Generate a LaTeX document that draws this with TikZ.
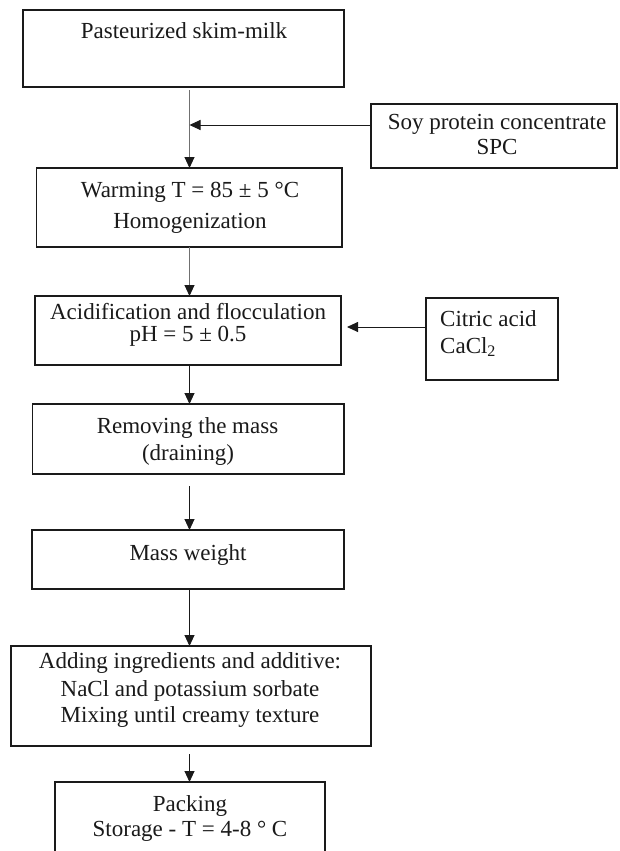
\documentclass[tikz,border=0pt]{standalone}
\usepackage{fontspec}
\setmainfont{Liberation Serif}
\usetikzlibrary{arrows.meta}
\definecolor{ink}{HTML}{1A1A1A}
\definecolor{grayline}{HTML}{707070}
\tikzset{
  box/.style={draw=ink, line width=1.3pt, inner sep=0pt, outer sep=0pt, fill=none},
  txt/.style={anchor=base, inner sep=0pt, text=ink, font=\fontsize{23}{27}\selectfont},
  ltxt/.style={anchor=base west, inner sep=0pt, text=ink, font=\fontsize{23}{27}\selectfont},
  arr/.style={draw=ink, line width=0.9pt, -{Triangle[length=11pt,width=10pt]}},
  garr/.style={draw=grayline, line width=0.9pt, -{Triangle[length=11pt,width=10pt,color=ink,fill=ink]}}
}
\begin{document}
\begin{tikzpicture}[x=1pt,y=-1pt]
\clip (0,0) rectangle (619,851);
\fill[white] (0,0) rectangle (619,851);

% boxes
\node[box, minimum width=321pt, minimum height=77pt] (b1) at (183.5,48.5) {};
\node[box, minimum width=246pt, minimum height=64pt] (spc) at (494,136) {};
\node[box, minimum width=305.5pt, minimum height=79pt] (b2) at (189.25,207.5) {};
\node[box, minimum width=306pt, minimum height=69pt] (b3) at (188,330.5) {};
\node[box, minimum width=132pt, minimum height=82pt] (cit) at (492,339) {};
\node[box, minimum width=311.5pt, minimum height=70pt] (b4) at (188.25,439) {};
\node[box, minimum width=312pt, minimum height=59pt] (b5) at (188,559.5) {};
\node[box, minimum width=360pt, minimum height=100pt] (b6) at (191,696) {};
\node[box, minimum width=270pt, minimum height=98pt] (b7) at (190,831) {};

% texts
\node[txt] (t1) at (184,39) {Pasteurized skim-milk};
\node[txt] (s1) at (497,129) {Soy protein concentrate};
\node[txt] (s2) at (497,154) {SPC};
\node[txt] (w1) at (190,197) {Warming T = 85 ± 5 °C};
\node[txt] (w2) at (190,228) {Homogenization};
\node[txt] (a1) at (188,319) {Acidification and flocculation};
\node[txt] (a2) at (188,341) {pH = 5 ± 0.5};
\node[ltxt] (c1) at (440,326) {Citric acid};
\node[ltxt] (c2) at (440,353) {CaCl\textsubscript{2}};
\node[txt] (r1) at (187.5,433) {Removing the mass};
\node[txt] (r2) at (188,460) {(draining)};
\node[txt] (m1) at (188,560) {Mass weight};
\node[txt] (d1) at (190,668) {Adding ingredients and additive:};
\node[txt] (d2) at (190,696) {NaCl and potassium sorbate};
\node[txt] (d3) at (190,722) {Mixing until creamy texture};
\node[txt] (p1) at (190,811) {Packing};
\node[txt] (p2) at (190,836) {Storage - T = 4-8 ° C};

% connectors
\coordinate (col) at (189.5,0);
\coordinate (j1) at (189.5,125);
\coordinate (j2) at (347,327);
\draw[garr, shorten <=3pt] (b1.south -| col) -- (b2.north -| col);
\draw[arr] (spc.west |- j1) -- (j1);
\draw[garr] (b2.south -| col) -- (b3.north -| col);
\draw[arr, shorten >=6pt] (cit.west |- j2) -- (b3.east |- j2);
\draw[arr] (b3.south -| col) -- (b4.north -| col);
\draw[arr, shorten <=12pt] (b4.south -| col) -- (b5.north -| col);
\draw[arr] (b5.south -| col) -- (b6.north -| col);
\draw[arr, shorten <=8pt] (b6.south -| col) -- (b7.north -| col);
\end{tikzpicture}
\end{document}
